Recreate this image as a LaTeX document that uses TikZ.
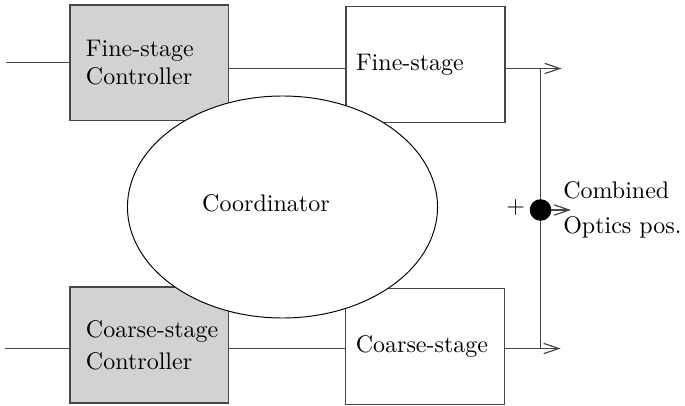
\documentclass[tikz,border=0pt]{standalone}
\usetikzlibrary{arrows.meta,calc,shapes.geometric}
\definecolor{boxgray}{RGB}{210,210,212}
\definecolor{linegray}{RGB}{70,70,70}
\begin{document}
\begin{tikzpicture}[x=0.41667pt,y=-0.41667pt,
  ctrlbox/.style={draw=linegray,line width=0.6pt,fill=boxgray,rectangle,
    minimum width=66.1pt,minimum height=48.2pt,inner xsep=6.67pt,inner ysep=0pt,
    text width=52.8pt,align=left},
  stagebox/.style={draw=linegray,line width=0.6pt,fill=white,rectangle,
    minimum width=66.2pt,minimum height=48.3pt,inner xsep=4.17pt,inner ysep=0pt,
    text width=57.86pt,align=left},
  wire/.style={draw=linegray,line width=0.5pt},
  arr/.style={wire,-{Straight Barb[length=6.25pt,width=4.3pt]}}]
\useasboundingbox (0,0) rectangle (685,405);
% boxes
\node[ctrlbox] (fc) at (149.35,62.7) {Fine-stage\\Controller};
\node[ctrlbox] (cc) at (149.35,345) {\hbox{Coarse-stage}\\[1.2pt]Controller};
\node[stagebox] (fs) at (425.5,64.35) {Fine-stage};
\node[stagebox] (cs) at (425.2,346.5) {\hbox{Coarse-stage}};
% coordinator
\node[ellipse,draw=black,line width=0.4pt,fill=white,inner sep=0pt,
  minimum width=129.2pt,minimum height=92.5pt,
  label={[xshift=-6.9pt,yshift=1.7pt]center:Coordinator}] (coord) at (282.5,207) {};
% helper coordinates
\coordinate (ytop) at (0,68.5);
\coordinate (ybot) at (0,348.5);
\coordinate (inF) at (6,62.7);
\coordinate (inC) at (5,348.5);
\coordinate (jF) at (540.5,68.5);
\coordinate (jC) at (540.5,348.5);
\coordinate (outF) at (561.5,68.5);
\coordinate (outC) at (560.5,348.5);
% wires
\draw[wire] (inF) -- (fc.west);
\draw[wire] (inC) -- (inC -| cc.west);
\draw[wire] (fc.east |- ytop) -- (fs.west |- ytop);
\draw[wire] (cc.east |- ybot) -- (cs.west |- ybot);
\draw[arr] (fs.east |- ytop) -- (outF);
\draw[arr] (cs.east |- ybot) -- (outC);
\draw[wire] (jF) -- (jC);
% summing dot
\node[circle,fill=black,draw=black,inner sep=0pt,minimum size=8.6pt] (dot) at (540.5,210) {};
\coordinate (outD) at (571,210);
\draw[arr] (dot.east) -- (outD);
\node (plus) at ($(dot.center)+(-24.8,-2.7)$) {$+$};
\node[anchor=west,align=left] (comb) at ($(dot.east)+(3.5,0)$) {Combined\\[2.6pt]Optics pos.};
\end{tikzpicture}
\end{document}
